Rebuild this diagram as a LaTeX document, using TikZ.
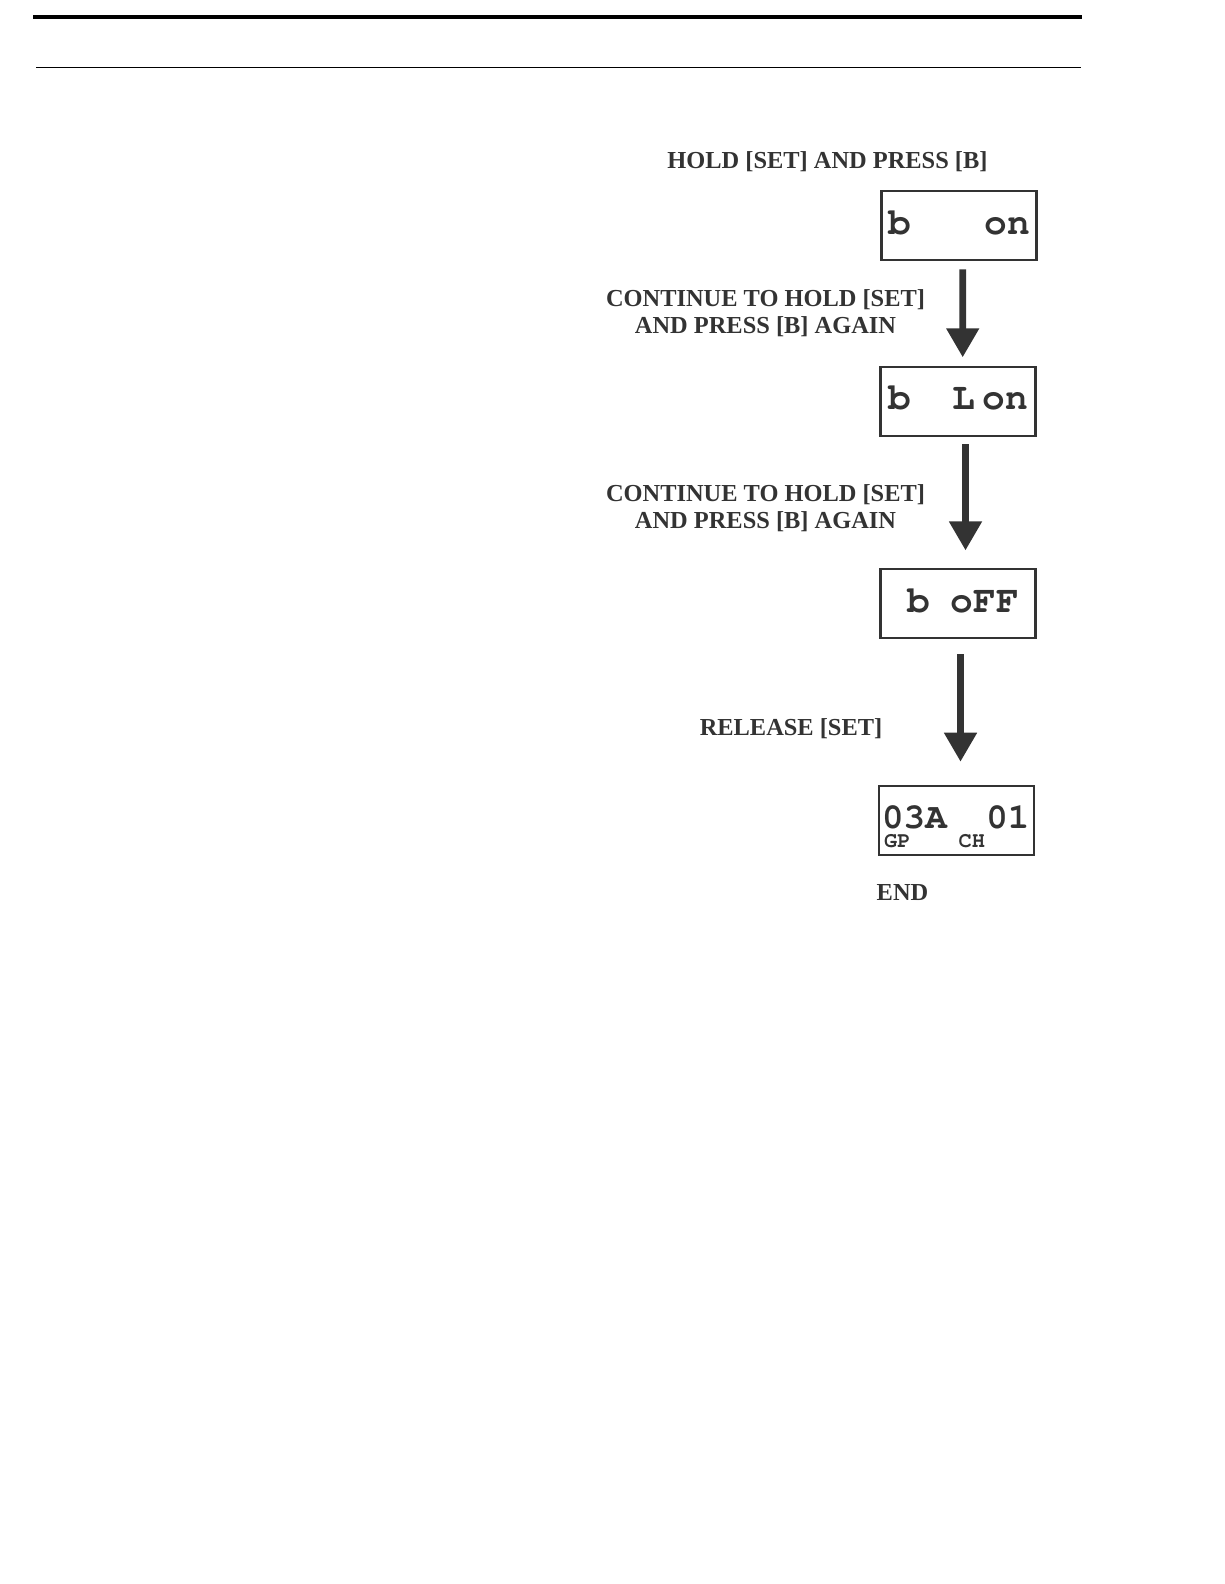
\documentclass[tikz,border=0pt]{standalone}
\usepackage{fontspec}
\setmainfont{Liberation Serif}
\newfontfamily\lcdfont{TeX Gyre Cursor}
\usetikzlibrary{arrows.meta}
\definecolor{ink}{HTML}{333333}
\begin{document}
\begin{tikzpicture}[x=1bp,y=-1bp,
  lbl/.style={font=\fontsize{24.5}{27.5}\selectfont\bfseries, text=ink, align=center, inner sep=0pt},
  lcdbox/.style={draw=ink, line width=2.4bp, minimum width=155bp, minimum height=69bp, inner sep=0pt},
  seg/.style={font=\lcdfont\bfseries\fontsize{38}{38}\selectfont, text=ink, inner sep=0pt},
  segm/.style={font=\lcdfont\bfseries\fontsize{36}{36}\selectfont, text=ink, inner sep=0pt},
  segs/.style={font=\lcdfont\bfseries\fontsize{22}{22}\selectfont, text=ink, inner sep=0pt, anchor=base west},
  arr/.style={draw=ink, line width=6.7bp, -{Triangle[width=31.4bp,length=29bp]}}]
\useasboundingbox[fill=white] (0,0) rectangle (1224,1584);
% header rules
\draw[line width=4bp] (33.3,17.2) -- (1081.6,17.2);
\draw[line width=1.3bp] (36.4,67.7) -- (1080.6,67.7);
% labels
\node[lbl, anchor=base] (t0) at (827.5,168) {HOLD [SET] AND PRESS [B]};
\node[lbl, anchor=north] (t1) at (765.5,289) {CONTINUE TO HOLD [SET]\\AND PRESS [B] AGAIN};
\node[lbl, anchor=north] (t2) at (765.5,484) {CONTINUE TO HOLD [SET]\\AND PRESS [B] AGAIN};
\node[lbl, anchor=base] (t3) at (791,735) {RELEASE [SET]};
\node[lbl, anchor=base] (t4) at (902.5,900) {END};
% display boxes
\node[lcdbox] (b1) at (958.9,225.3) {};
\node[lcdbox] (b2) at (958,401.7) {};
\node[lcdbox] (b3) at (958,603.3) {};
\node[lcdbox] (b4) at (956.2,820.5) {};
% display contents
\node[seg, anchor=base west] (b1a) at (888,234.3) {b};
\node[seg, anchor=base east] (b1b) at (1030,234.3) {on};
\node[seg, anchor=base west] (b2a) at (888,409.3) {b};
\node[seg, anchor=base west] (b2b) at (952.5,409.3) {L};
\node[seg, anchor=base east] (b2c) at (1028,409.3) {on};
\node[seg, anchor=base west] (b3a) at (907,612.3) {b};
\node[seg, anchor=base west] (b3b) at (950.5,612.3) {oFF};
\node[segm, anchor=base west] (b4a) at (882,828) {03A};
\node[segm, anchor=base east] (b4b) at (1029.5,828) {01};
\node[segs] (b4c) at (884,847) {GP};
\node[segs] (b4d) at (958.5,847) {CH};
% arrows
\draw[arr] ([xshift=3.8bp,yshift=-8.3bp]b1.south) -- ([xshift=4.7bp,yshift=8.7bp]b2.north);
\draw[arr] ([xshift=7.5bp,yshift=-7bp]b2.south) -- ([xshift=7.5bp,yshift=17.2bp]b3.north);
\draw[arr] ([xshift=2.5bp,yshift=-15bp]b3.south) -- ([xshift=4.3bp,yshift=23.1bp]b4.north);
\end{tikzpicture}
\end{document}
